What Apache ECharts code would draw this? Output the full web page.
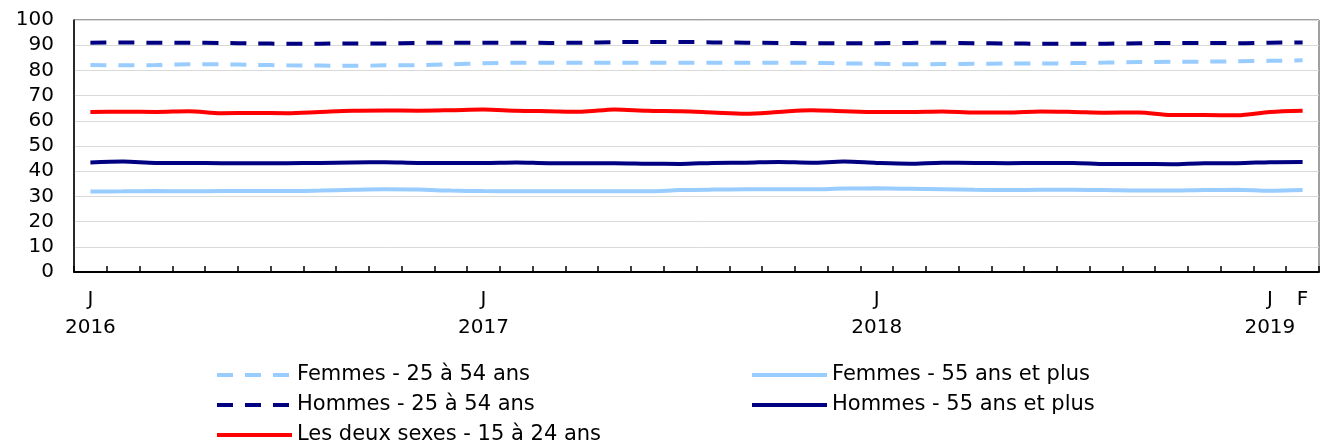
<!DOCTYPE html>
<html>
<head>
<meta charset="utf-8">
<script src="https://cdn.jsdelivr.net/npm/echarts@6/dist/echarts.min.js"></script>
<style>html,body{margin:0;padding:0;background:#fff}#c{width:1322px;height:442px}</style>
</head>
<body>
<div id="c"></div>
<script>
// Months Jan 2016 .. Feb 2019
const months = [
  '2016-01','2016-02','2016-03','2016-04','2016-05','2016-06','2016-07','2016-08','2016-09','2016-10','2016-11','2016-12',
  '2017-01','2017-02','2017-03','2017-04','2017-05','2017-06','2017-07','2017-08','2017-09','2017-10','2017-11','2017-12',
  '2018-01','2018-02','2018-03','2018-04','2018-05','2018-06','2018-07','2018-08','2018-09','2018-10','2018-11','2018-12',
  '2019-01','2019-02'
];
const tickLabels = [
  'J\n2016','','','','','','','','','','','',
  'J\n2017','','','','','','','','','','','',
  'J\n2018','','','','','','','','','','','',
  'J\n2019','F'
];
const femmes2554 = [82.1,82.0,82.1,82.4,82.4,82.2,82.0,81.9,81.8,82.0,82.1,82.4,
  82.8,83.0,83.0,83.0,83.0,83.0,83.0,83.0,83.0,83.0,83.0,82.8,
  82.6,82.4,82.5,82.6,82.7,82.7,82.9,83.1,83.3,83.4,83.5,83.6,
  83.8,84.0];
const femmes55 = [31.9,32.0,32.1,32.0,32.1,32.1,32.1,32.3,32.6,32.8,32.7,32.3,
  32.1,32.0,32.0,32.0,32.0,32.0,32.5,32.7,32.8,32.8,32.8,33.1,
  33.2,33.0,32.8,32.6,32.5,32.6,32.6,32.5,32.3,32.3,32.5,32.6,
  32.2,32.5];
const hommes2554 = [91.0,91.1,91.0,91.0,90.9,90.7,90.6,90.6,90.7,90.7,90.9,91.0,
  91.0,91.0,90.9,91.0,91.2,91.3,91.3,91.1,91.0,90.9,90.8,90.8,
  90.8,90.9,91.0,90.8,90.7,90.6,90.6,90.6,90.8,90.9,90.9,90.8,
  91.0,91.1];
const hommes55 = [43.5,43.8,43.3,43.3,43.2,43.2,43.2,43.3,43.5,43.6,43.3,43.3,
  43.3,43.5,43.2,43.2,43.2,43.0,42.9,43.3,43.4,43.7,43.4,43.8,
  43.3,43.0,43.4,43.3,43.2,43.3,43.3,42.9,42.9,42.8,43.2,43.2,
  43.6,43.7];
const deuxSexes1524 = [63.5,63.6,63.5,63.8,63.0,63.1,63.0,63.5,64.0,64.1,64.0,64.2,
  64.5,64.0,63.8,63.6,64.5,64.0,63.8,63.3,62.8,63.5,64.2,63.8,
  63.5,63.5,63.7,63.3,63.3,63.7,63.5,63.2,63.3,62.3,62.3,62.2,
  63.5,64.0];
const yTicks = {min: 0, max: 100, interval: 10};
const seriesNames = ['Femmes - 25 à 54 ans', 'Femmes - 55 ans et plus', 'Hommes - 25 à 54 ans',
  'Hommes - 55 ans et plus', 'Les deux sexes - 15 à 24 ans'];

const FONT = 'Verdana, "DejaVu Sans", sans-serif';
const LB = '#99CCFF', NAVY = '#000080', RED = '#FF0000';
const DASH = [16, 12];

function leg(name, left, top) {
  return {orient: 'horizontal', left: left, top: top, itemWidth: 75, itemHeight: 14, itemTextGap: 2,
    padding: 0, lineStyle: {width: 4}, itemStyle: {opacity: 0, borderWidth: 0},
    textStyle: {color: '#000', fontFamily: FONT, fontSize: 21, lineHeight: 22},
    data: [name]};
}

const chart = echarts.init(document.getElementById('c'), null, {renderer: 'canvas'});
chart.setOption({
  animation: false,
  grid: {left: 74, right: 3, top: 20, bottom: 170, show: true, borderColor: '#404040', borderWidth: 1, containLabel: false},
  xAxis: {
    type: 'category', data: months, boundaryGap: true,
    axisLine: {lineStyle: {color: '#000', width: 2}},
    axisTick: {show: true, inside: true, length: 6, interval: 0, lineStyle: {color: '#000', width: 1.5}},
    axisLabel: {interval: 0, margin: 14, color: '#000', fontFamily: FONT, fontSize: 20, lineHeight: 28,
      formatter: (v, i) => tickLabels[i]},
    splitLine: {show: false}
  },
  yAxis: {
    type: 'value', min: yTicks.min, max: yTicks.max, interval: yTicks.interval,
    axisLine: {show: true, lineStyle: {color: '#000', width: 1.5}},
    axisTick: {show: false},
    axisLabel: {margin: 20, color: '#000', fontFamily: FONT, fontSize: 20},
    splitLine: {show: true, lineStyle: {color: '#d9d9d9', width: 1}}
  },
  legend: [
    leg(seriesNames[0], 215, 364),
    leg(seriesNames[2], 215, 394),
    leg(seriesNames[4], 215, 424),
    leg(seriesNames[1], 750, 364),
    leg(seriesNames[3], 750, 394)
  ],
  series: [
    {name: seriesNames[0], type: 'line', data: femmes2554, symbol: 'none', smooth: 0.3,
      lineStyle: {color: LB, width: 4, type: DASH}, itemStyle: {color: LB}},
    {name: seriesNames[1], type: 'line', data: femmes55, symbol: 'none', smooth: 0.3,
      lineStyle: {color: LB, width: 4}, itemStyle: {color: LB}},
    {name: seriesNames[2], type: 'line', data: hommes2554, symbol: 'none', smooth: 0.3,
      lineStyle: {color: NAVY, width: 4, type: DASH}, itemStyle: {color: NAVY}},
    {name: seriesNames[3], type: 'line', data: hommes55, symbol: 'none', smooth: 0.3,
      lineStyle: {color: NAVY, width: 4}, itemStyle: {color: NAVY}},
    {name: seriesNames[4], type: 'line', data: deuxSexes1524, symbol: 'none', smooth: 0.3,
      lineStyle: {color: RED, width: 4}, itemStyle: {color: RED}}
  ]
});
</script>
</body>
</html>
